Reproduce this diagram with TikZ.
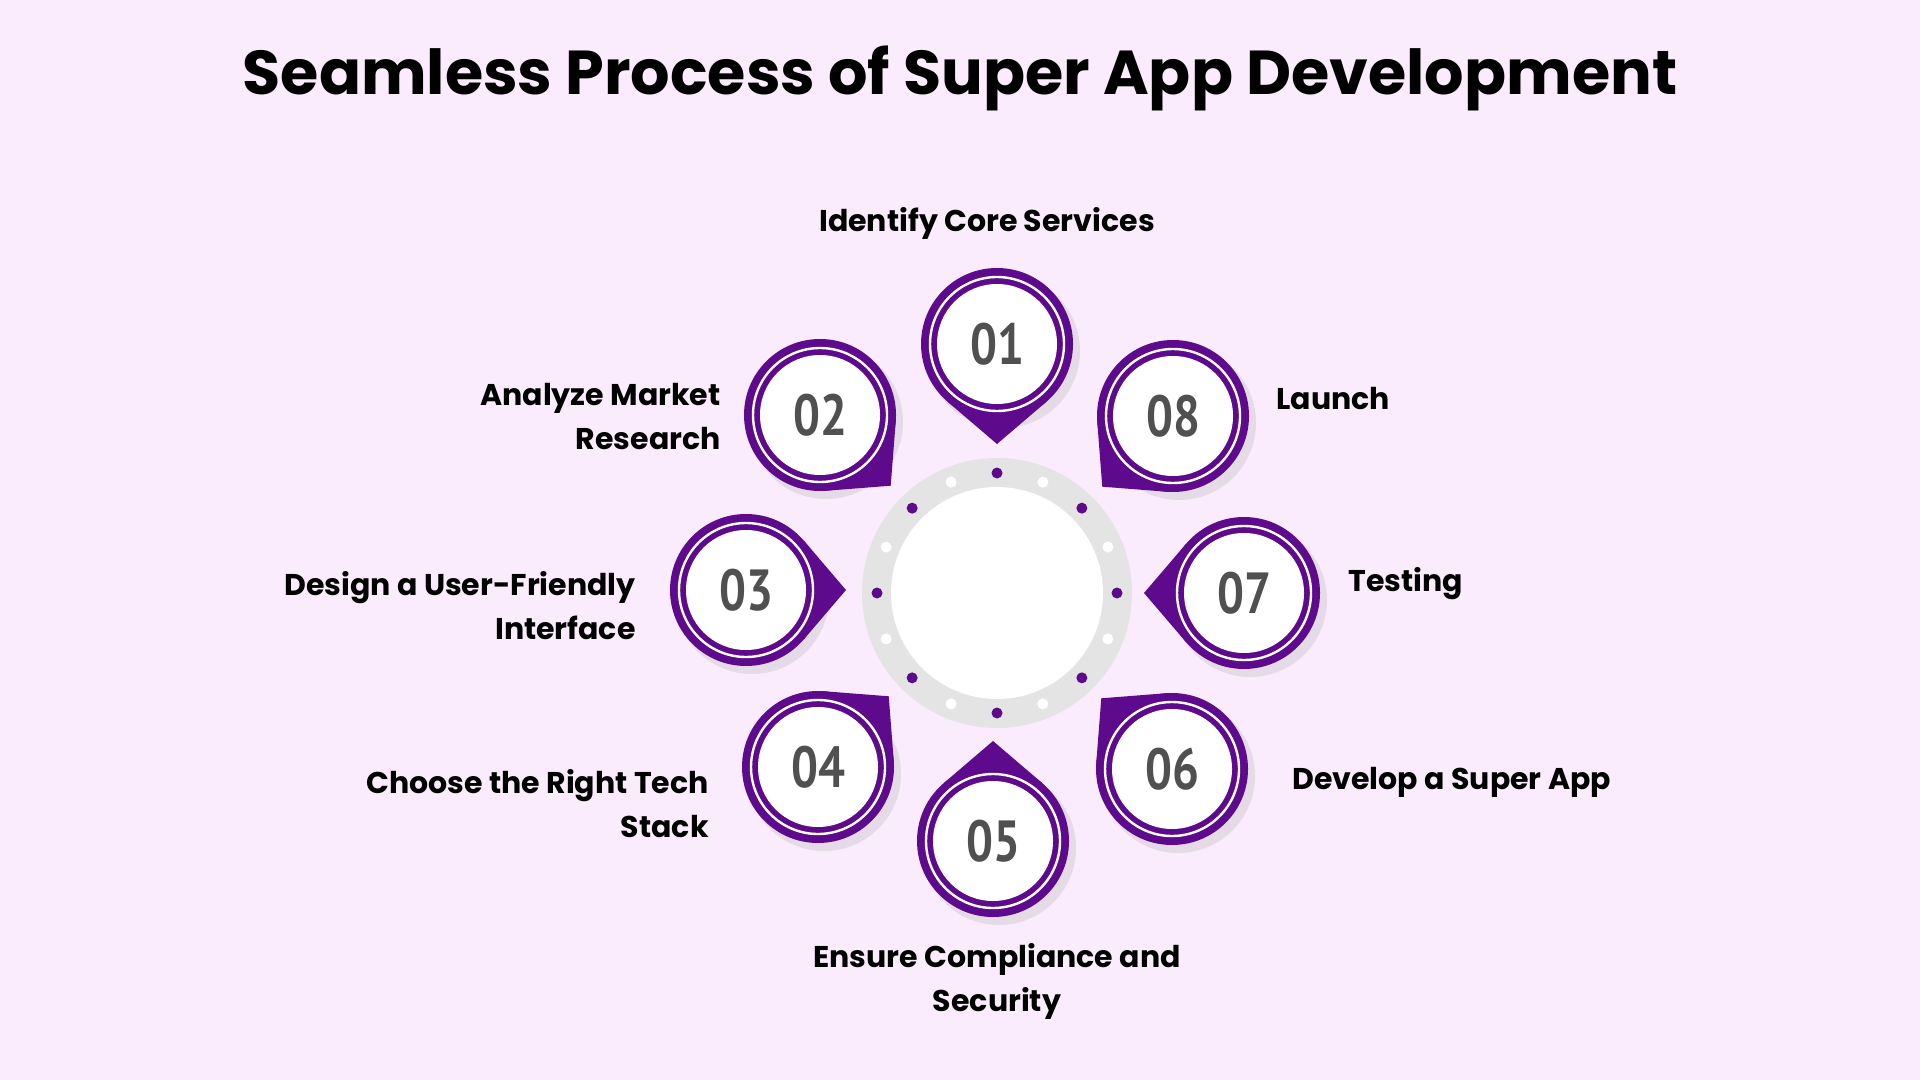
\documentclass[tikz,border=0pt]{standalone}
\usepackage{fontspec}
\setmainfont{Poppins}
\newfontfamily\numfont{PT Sans}
\definecolor{bg}{HTML}{FAEBFD}
\definecolor{pur}{HTML}{5E0A8C}
\definecolor{ringgray}{HTML}{E4E4E4}
\definecolor{numgray}{HTML}{505050}
\tikzset{lbl/.style={font=\fontsize{15}{22}\selectfont\bfseries, inner sep=0pt},
 num/.style={font=\numfont\fontsize{29}{30}\selectfont\bfseries, text=numgray}}
\newcommand{\badge}[4]{% name, x, y, angle toward center
 \fill[black!25,opacity=0.35] (#2+6,#3+7) circle (77);
 \fill[pur] (#2,#3) circle (76);
 \fill[pur] ($(#2,#3)+(#4:100)$) -- ($(#2,#3)+(#4+40.5:76)$) -- (#2,#3) -- ($(#2,#3)+(#4-40.5:76)$) -- cycle;
 \draw[white,line width=1.2pt] (#2,#3) circle (67);
 \fill[white] (#2,#3) circle (60);
 \node[num] (#1) at (#2,#3) {\scalebox{0.82}[1]{#1}};
}
\usetikzlibrary{calc}
\begin{document}
\begin{tikzpicture}[x=0.5pt,y=-0.5pt]
\fill[bg] (0,0) rectangle (1920,1080);
\node[font=\fontsize{31}{36}\selectfont\bfseries] (title) at (960,78) {Seamless Process of Super App Development};
% center ring
\fill[ringgray] (997,593) circle (135);
\fill[white] (997,593) circle (106);
\foreach \i in {0,...,15}{
  \pgfmathsetmacro{\a}{\i*22.5}
  \ifodd\i \fill[white] ($(997,593)+(\a:120)$) circle (5.5);
  \else \fill[pur] ($(997,593)+(\a:120)$) circle (5.5); \fi
}
\badge{01}{997}{344}{90}
\badge{02}{820}{415}{45}
\badge{03}{746}{590}{0}
\badge{04}{818}{767}{-45}
\badge{05}{993}{841}{-90}
\badge{06}{1172}{769}{-135}
\badge{07}{1244}{593}{180}
\badge{08}{1173}{416}{135}
\node[lbl] (l1) at (987,223) {Identify Core Services};
\node[lbl,anchor=east,align=right] (l2) at (721,417) {Analyze Market\\Research};
\node[lbl,anchor=east,align=right] (l3) at (636,606) {Design a User-Friendly\\Interface};
\node[lbl,anchor=east,align=right] (l4) at (709,804) {Choose the Right Tech\\Stack};
\node[lbl,align=center] (l5) at (997,981) {Ensure Compliance and\\Security};
\node[lbl,anchor=west] (l6) at (1292,782) {Develop a Super App};
\node[lbl,anchor=west] (l7) at (1348,584) {Testing};
\node[lbl,anchor=west] (l8) at (1276,399) {Launch};
\end{tikzpicture}
\end{document}
